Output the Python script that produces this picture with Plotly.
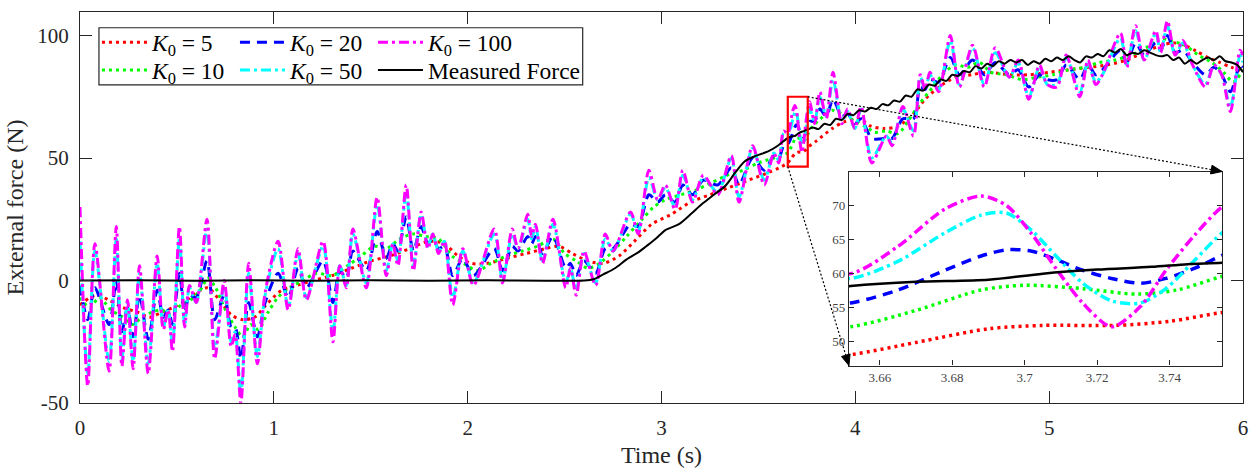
import plotly.graph_objects as go

# ---------------- data ----------------
# shared time base for K0 = 20, 50, 100 (seconds)
T = [0.000, 0.040, 0.077, 0.150, 0.187, 0.216, 0.245, 0.274, 0.307, 0.352, 0.398, 0.430, 0.455, 0.477,
     0.513, 0.540, 0.565, 0.600, 0.655, 0.695, 0.744, 0.780, 0.800, 0.830, 0.870, 0.915, 0.955,
     1.022, 1.074, 1.125, 1.168, 1.254, 1.305, 1.340, 1.374, 1.408, 1.477, 1.533, 1.580, 1.614, 1.640,
     1.683, 1.720, 1.760, 1.795, 1.820, 1.850, 1.880, 1.923, 1.975,
     2.030, 2.137, 2.180, 2.230, 2.260, 2.310, 2.330, 2.350, 2.386, 2.440, 2.506, 2.530, 2.560, 2.600,
     2.660, 2.710, 2.750, 2.840, 2.880, 2.935, 2.980,
     3.020, 3.070, 3.110, 3.160, 3.216, 3.290, 3.360, 3.400, 3.470, 3.530, 3.580, 3.605, 3.630,
     3.652, 3.665, 3.678, 3.688, 3.695, 3.702, 3.709, 3.716, 3.724, 3.732, 3.739, 3.747, 3.7545,
     3.765, 3.790, 3.817, 3.850, 3.885, 3.930, 3.960, 3.997, 4.030, 4.085, 4.160, 4.190, 4.245, 4.300,
     4.335, 4.360, 4.385, 4.430, 4.490, 4.537, 4.605, 4.665, 4.722, 4.795, 4.840, 4.895, 4.950, 4.990,
     5.040, 5.088, 5.158, 5.200, 5.240, 5.275, 5.368, 5.400, 5.446, 5.490, 5.550, 5.575, 5.610, 5.650,
     5.690, 5.740, 5.806, 5.850, 5.890, 5.935, 5.985, 6.000]

K100 = [30, -43, 15, -37, 22, -35, -8, -36, 6, -38, 10, -20, -12, -29,
        22, -19, -2, -9, 25, -32, 0, -27, -22, -50, 7, -34, -5,
        16, -12, 13, -8, 16, -25, 6, -3, 21, -3, 34, 2, 15, 6,
        39, 4, 28, 13, 19, 11, 16, -10, 13,
        -2, 21, -1, 21, 13, 27, 18, 23, 7, 25, -3, 5, -6, 12,
        -2, 19, 12, 28, 19, 45, 33,
        39, 29, 45, 32, 43, 35, 51, 32, 55, 39, 52, 48, 61,
        60, 64, 69.5, 71.4, 70.0, 65.8, 60.5, 55.7, 52.2, 55.2, 60.5, 65.7, 69.8,
        73, 64, 77, 66, 85, 64, 70, 62, 71, 48, 59, 55, 71, 59,
        84, 78, 85, 77, 100, 79, 96, 79, 95, 83, 90, 74, 88, 80,
        79, 92, 75, 90, 80, 84, 101, 87, 104, 90, 102, 93, 106, 92,
        98, 88, 79, 88, 84, 69, 94, 92]

K50 = [16, -38, 12, -33, 17, -32, -9, -33, 3, -34, 7, -19, -12, -26,
       17, -18, -3, -9, 21, -28, -2, -25, -21, -46, 3, -31, -6,
       13, -11, 11, -7, 14, -21, 6, -2, 19, -1, 31, 4, 15, 8,
       36, 6, 27, 14, 19, 12, 16, -7, 12,
       -1, 19, 0, 19, 13, 25, 17, 22, 8, 23, -1, 5, -4, 11,
       -1, 17, 12, 27, 20, 42, 33,
       38, 30, 43, 33, 42, 36, 50, 34, 54, 41, 52, 49, 60,
       59.3, 61.8, 66.0, 68.6, 68.9, 66.3, 62.4, 58.6, 56.0, 55.7, 57.8, 62.0, 66.0,
       70, 65, 75, 67, 82, 65, 69, 62, 70, 50, 59, 56, 70, 61,
       83, 78, 84, 78, 98, 80, 95, 80, 93, 83, 89, 75, 87, 80,
       80, 91, 77, 89, 81, 84, 99, 88, 102, 90, 101, 93, 104, 92,
       97, 88, 80, 88, 84, 71, 92, 89]

K20 = [-2, -16, -3, -18, 0, -21, -11, -23, -6, -24, -4, -15, -12, -18,
       3, -13, -6, -7, 8, -16, -6, -19, -19, -32, -9, -23, -9,
       3, -7, 5, -3, 8, -9, 4, 1, 12, 4, 20, 9, 15, 12,
       26, 12, 22, 15, 17, 13, 14, 2, 9,
       2, 13, 4, 14, 12, 18, 15, 18, 11, 18, 5, 7, 2, 8,
       3, 13, 13, 23, 22, 35, 32,
       35, 32, 39, 35, 41, 39, 46, 39, 50, 45, 51, 50, 55,
       55.7, 57.6, 60.5, 62.6, 63.5, 63.3, 62.0, 60.5, 59.3, 58.6, 59.3, 60.8, 62.7,
       65, 65, 70, 67, 74, 67, 68, 64, 66, 58, 58, 58, 66, 66,
       79, 78, 82, 81, 91, 84, 90, 84, 89, 84, 86, 79, 84, 82,
       82, 88, 82, 88, 84, 86, 94, 89, 97, 92, 97, 94, 100, 93,
       94, 89, 84, 87, 84, 77, 88, 87]

# K0 = 10
T10 = [0.00, 0.05, 0.10, 0.16, 0.22, 0.27, 0.32, 0.37, 0.42, 0.47,
       0.52, 0.57, 0.62, 0.66, 0.70, 0.75, 0.80, 0.84, 0.88, 0.92,
       0.97, 1.02, 1.08, 1.15, 1.22, 1.30, 1.38, 1.45, 1.52, 1.58,
       1.65, 1.72, 1.78, 1.85, 1.92, 1.98, 2.05, 2.12, 2.20, 2.28,
       2.36, 2.44, 2.50, 2.56, 2.62, 2.68, 2.75, 2.82, 2.90, 2.96,
       3.02, 3.10, 3.18, 3.26, 3.34, 3.42, 3.50, 3.58, 3.62, 3.652,
       3.670, 3.688, 3.700, 3.716, 3.731, 3.742, 3.7545, 3.78, 3.82, 3.88,
       3.94, 4.00, 4.06, 4.10, 4.16, 4.22, 4.28, 4.33, 4.40, 4.46,
       4.52, 4.58, 4.64, 4.70, 4.78, 4.86, 4.94, 5.02, 5.10, 5.18,
       5.26, 5.34, 5.42, 5.50, 5.56, 5.62, 5.70, 5.77, 5.84, 5.90,
       5.95, 6.00]
K10 = [-7, -11, -7, -12, -15, -18, -15, -13, -12, -14,
       -10, -8, -4, 1, -3, -12, -19, -23, -18, -20,
       -13, -7, -3, 0, 3, 2, 6, 10, 14, 13,
       17, 19, 18, 17, 10, 7, 4, 7, 10, 12,
       14, 17, 11, 8, 5, 7, 12, 18, 25, 30,
       33, 35, 37, 40, 43, 45, 48, 50, 51, 52.2,
       54.6, 57.6, 58.3, 57.8, 57.0, 57.6, 59.6, 63, 66, 69.5,
       67.5, 65, 62.5, 60.5, 61, 60, 66, 72, 79, 85,
       88, 87, 89, 85, 84, 82, 83, 84, 86, 87,
       89, 90, 92, 95, 99, 98, 96, 92, 89, 85,
       81, 86]

# K0 = 5
T5 = [0.00, 0.08, 0.15, 0.22, 0.30, 0.36, 0.42, 0.48, 0.55, 0.62,
      0.66, 0.72, 0.78, 0.84, 0.90, 0.96, 1.04, 1.12, 1.20, 1.30,
      1.40, 1.50, 1.60, 1.70, 1.80, 1.88, 1.95, 2.02, 2.10, 2.20,
      2.30, 2.40, 2.47, 2.54, 2.62, 2.70, 2.78, 2.86, 2.95, 3.05,
      3.15, 3.25, 3.35, 3.45, 3.55, 3.62, 3.652, 3.670, 3.690, 3.705,
      3.725, 3.740, 3.7545, 3.80, 3.88, 3.95, 4.02, 4.08, 4.15, 4.22,
      4.30, 4.36, 4.44, 4.52, 4.60, 4.68, 4.80, 4.90, 5.00, 5.10,
      5.20, 5.30, 5.40, 5.50, 5.58, 5.64, 5.70, 5.76, 5.82, 5.88,
      5.94, 6.00]
K5 = [-10, -6, -8, -11, -13, -15, -13, -11, -8, -4,
      -3, -8, -14, -16, -15, -10, -4, -2, 0, 2,
      5, 8, 10, 13, 16, 15, 10, 7, 7, 9,
      11, 13, 14, 11, 8, 7, 10, 16, 23, 27,
      32, 35, 38, 41, 44, 46.5, 48.1, 49.9, 51.9, 52.4,
      52.4, 53.0, 54.3, 57, 62, 65, 66, 63, 62, 63,
      68, 74, 79.5, 83, 84, 85, 84, 84, 85, 86,
      87, 88, 90, 93.6, 96, 97, 96, 93.6, 91, 89,
      87, 85.5]

# Measured force
TM = [0.00, 0.30, 0.60, 0.90, 1.20, 1.50, 1.80, 2.10, 2.40, 2.60,
      2.65, 2.70, 2.76, 2.82, 2.88, 2.92, 2.97, 3.02, 3.09, 3.15, 3.21, 3.27, 3.33, 3.38, 3.43, 3.49, 3.55, 3.60,
      3.652, 3.670, 3.690, 3.705, 3.720, 3.735, 3.745, 3.7545,
      3.78, 3.81, 3.84, 3.87, 3.90, 3.93, 3.96, 3.99, 4.02, 4.05,
      4.08, 4.11, 4.14, 4.17, 4.20, 4.23, 4.26, 4.29, 4.32, 4.35,
      4.38, 4.41, 4.44, 4.47, 4.50, 4.53, 4.56, 4.59, 4.62, 4.65,
      4.68, 4.71, 4.74, 4.77, 4.80, 4.83, 4.86, 4.89, 4.92, 4.95,
      4.98, 5.01, 5.04, 5.07, 5.10, 5.13, 5.16, 5.19, 5.22, 5.25,
      5.28, 5.31, 5.34, 5.37, 5.40, 5.43, 5.46, 5.49, 5.52, 5.55,
      5.58, 5.61, 5.64, 5.67, 5.70, 5.73, 5.76, 5.79, 5.82, 5.85,
      5.88, 5.91, 5.94, 5.97, 6.00]
MEAS = [0, 0.1, -0.1, 0.1, -0.1, 0.1, -0.1, 0.1, -0.1, 0,
        0.5, 2.5, 5, 8.6, 11.5, 13.9, 17, 20.6, 23, 27, 31.3, 35, 38.7, 44, 48.7, 51, 52.7, 55,
        58.2, 58.8, 59.1, 60, 60.6, 61, 61.4, 61.6,
        62.5, 61.8, 64, 63.5, 66, 65.5, 68, 67.5, 69.5, 69,
        70.5, 70, 72, 71.5, 73.5, 73, 75.5, 75, 78, 77.5,
        80, 79.5, 82, 81.5, 84, 83.5, 85.5, 85, 87.5, 86.5,
        88.5, 87.5, 89.5, 88.5, 90, 89, 90, 88, 89.5, 88.5,
        90.5, 89.5, 91, 90, 91.5, 90, 89, 91.5, 91, 92.5,
        91.5, 94, 93, 94.5, 92, 93, 92.5, 94, 93, 92,
        91.5, 92, 90, 91, 88.5, 90, 88.5, 90, 91, 90,
        91.5, 89.5, 89, 88, 85]

X_TICKS = [0, 1, 2, 3, 4, 5, 6]
Y_TICKS = [-50, 0, 50, 100]
Y_TICK_TEXT = ["-50", "0", "50", "100"]
INSET_X_TICKS = [3.66, 3.68, 3.70, 3.72, 3.74]
INSET_X_TEXT = ["3.66", "3.68", "3.7", "3.72", "3.74"]
INSET_Y_TICKS = [50, 55, 60, 65, 70]
X_RANGE = [0, 6]
Y_RANGE = [-50, 109.6]
ZOOM_X = [3.6515, 3.7545]
ZOOM_Y = [46.5, 75.0]

# ---------------- styling ----------------
FONT = "Liberation Serif"
AX = "#262626"
W, H = 1259, 474
ML, MR, MT, MB = 80, 13, 11, 66
PW, PH = W - ML - MR, H - MT - MB
INSET_DX = [0.6612, 0.982]
INSET_DY = [0.0957, 0.592]

series = [
    ("<i>K</i><sub>0</sub> = 5", T5, K5, "#FF0000", "3px,4px", 3, "legend", 78),
    ("<i>K</i><sub>0</sub> = 10", T10, K10, "#00FF00", "3px,4px", 3, "legend2", 78),
    ("<i>K</i><sub>0</sub> = 20", T, K20, "#0000FF", "10px,7px", 3, "legend", 78),
    ("<i>K</i><sub>0</sub> = 50", T, K50, "#00FFFF", "10px,4px,3px,4px", 3, "legend2", 78),
    ("<i>K</i><sub>0</sub> = 100", T, K100, "#FF00FF", "10px,4px,3px,4px", 3, "legend", None),
    ("Measured Force", TM, MEAS, "#000000", "solid", 2, "legend2", None),
]

fig = go.Figure()
for name, x, y, col, dash, lw, leg, lwid in series:
    kw = dict(legendwidth=lwid) if lwid else {}
    fig.add_trace(go.Scatter(x=x, y=y, mode="lines", name=name, legend=leg,
                             line=dict(color=col, width=lw, dash=dash, shape="spline", smoothing=0.8),
                             xaxis="x", yaxis="y", hoverinfo="skip", **kw))
for name, x, y, col, dash, lw, leg, lwid in series:
    fig.add_trace(go.Scatter(x=x, y=y, mode="lines", name=name, showlegend=False,
                             line=dict(color=col, width=lw + 0.5, dash=dash, shape="spline", smoothing=0.8),
                             xaxis="x2", yaxis="y2", hoverinfo="skip"))


def px(t):
    return (t - X_RANGE[0]) / (X_RANGE[1] - X_RANGE[0])


def py(v):
    return (v - Y_RANGE[0]) / (Y_RANGE[1] - Y_RANGE[0])


axis_common = dict(showline=True, linecolor=AX, linewidth=1.3, mirror="ticks", ticks="inside",
                   tickcolor=AX, tickwidth=1.2, showgrid=False, zeroline=False)

legend_common = dict(orientation="h", x=(97 - ML) / PW, xanchor="left", yanchor="middle",
                     bgcolor="rgba(0,0,0,0)", borderwidth=0, itemwidth=45, tracegroupgap=0,
                     font=dict(family=FONT, size=23.5, color="black"))

fig.update_layout(
    width=W, height=H, margin=dict(l=ML, r=MR, t=MT, b=MB),
    paper_bgcolor="white", plot_bgcolor="white",
    xaxis=dict(domain=[0, 1], range=X_RANGE, tickvals=X_TICKS, ticklen=12,
               tickfont=dict(family=FONT, size=21, color=AX), ticklabelstandoff=6,
               title=dict(text="Time (s)", font=dict(family=FONT, size=24, color=AX), standoff=6),
               **axis_common),
    yaxis=dict(domain=[0, 1], range=Y_RANGE, tickvals=Y_TICKS, ticktext=Y_TICK_TEXT, ticklen=12,
               tickfont=dict(family=FONT, size=21, color=AX), ticklabelstandoff=6,
               title=dict(text="External force (N)", font=dict(family=FONT, size=24, color=AX), standoff=6),
               **axis_common),
    xaxis2=dict(domain=INSET_DX, anchor="y2", range=ZOOM_X, tickvals=INSET_X_TICKS, ticktext=INSET_X_TEXT,
                ticklen=5, tickfont=dict(family=FONT, size=13, color="#444444"), **axis_common),
    yaxis2=dict(domain=INSET_DY, anchor="x2", range=ZOOM_Y, tickvals=INSET_Y_TICKS,
                ticklen=5, tickfont=dict(family=FONT, size=13, color="#444444"), **axis_common),
    legend=dict(y=1 - (42 - MT) / PH, **legend_common),
    legend2=dict(y=1 - (70 - MT) / PH, **legend_common),
    showlegend=True,
)

shapes = [
    # inset background
    dict(type="rect", xref="x2", yref="y2", x0=ZOOM_X[0], x1=ZOOM_X[1], y0=ZOOM_Y[0], y1=ZOOM_Y[1],
         fillcolor="white", line=dict(width=0), layer="below"),
    # zoom window in main plot
    dict(type="rect", xref="x", yref="y", x0=ZOOM_X[0], x1=ZOOM_X[1], y0=ZOOM_Y[0], y1=ZOOM_Y[1],
         line=dict(color="#FF0000", width=2.2), layer="above"),
    # legend frame
    dict(type="rect", xref="paper", yref="paper", x0=(99 - ML) / PW, x1=(584 - ML) / PW,
         y0=1 - (85 - MT) / PH, y1=1 - (27 - MT) / PH, fillcolor="white",
         line=dict(color=AX, width=1.2), layer="above"),
]

# dotted connectors with filled arrowheads (from zoom window corners to inset corners)
for (sx, sy), (ex, ey) in [((px(ZOOM_X[1]), py(ZOOM_Y[1])), (INSET_DX[1], INSET_DY[1])),
                           ((px(ZOOM_X[0]), py(ZOOM_Y[0])), (INSET_DX[0], INSET_DY[0]))]:
    shapes.append(dict(type="line", xref="paper", yref="paper", x0=sx, y0=sy, x1=ex, y1=ey,
                       line=dict(color="black", width=1.2, dash="2px,2px")))
    dx = (ex - sx) * PW
    dy = -(ey - sy) * PH
    n = (dx * dx + dy * dy) ** 0.5
    ux, uy = dx / n, dy / n
    L, hw = 11.0, 4.5
    bx, by = -ux * L, -uy * L
    pts = [(0.0, 0.0), (bx - uy * hw, by + ux * hw), (bx + uy * hw, by - ux * hw)]
    path = "M " + " L ".join(f"{ex + qx / PW:.5f},{ey - qy / PH:.5f}" for qx, qy in pts) + " Z"
    shapes.append(dict(type="path", xref="paper", yref="paper", path=path,
                       fillcolor="black", line=dict(color="black", width=1)))

fig.update_layout(shapes=shapes)

fig.write_html("out.html")
